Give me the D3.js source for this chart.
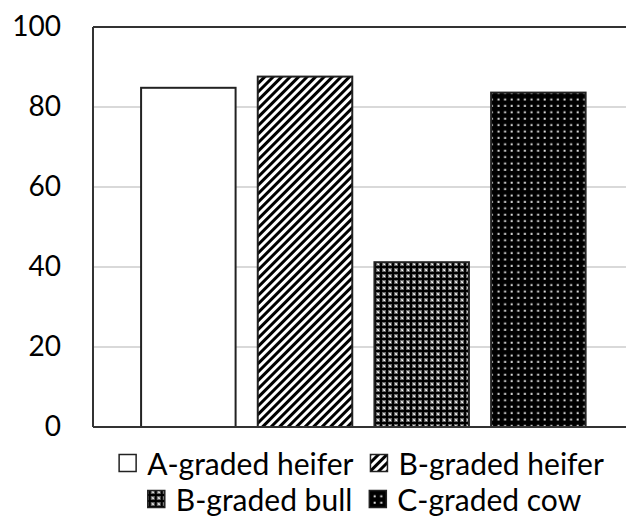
<!DOCTYPE html>
<html>
<head>
<meta charset="utf-8">
<script src="https://cdn.jsdelivr.net/npm/d3@7"></script>
<style>
  body { margin: 0; background: #fff; }
  svg { display: block; font-family: Lato, "Open Sans", sans-serif; }
</style>
</head>
<body>
<script>
// categories and values
var categories = ['A-graded heifer', 'B-graded heifer', 'B-graded bull', 'C-graded cow'];
var values = [84.8, 87.6, 41.2, 83.6];
var patternIds = ['pNone', 'pStripe', 'pCheck', 'pDots'];
var yTicks = [0, 20, 40, 60, 80, 100];

var W = 626, H = 519;
var plotLeft = 93, plotTop = 27, plotBottom = 427, plotRight = 626;

var svg = d3.select('body').append('svg')
    .attr('width', W)
    .attr('height', H);

// fill patterns
var defs = svg.append('defs');

var stripe = defs.append('pattern')
    .attr('id', 'pStripe')
    .attr('patternUnits', 'userSpaceOnUse')
    .attr('width', 6).attr('height', 6)
    .attr('patternTransform', 'rotate(45)');
stripe.append('rect').attr('width', 6).attr('height', 6).attr('fill', '#fff');
stripe.append('rect').attr('width', 3).attr('height', 6).attr('fill', '#000');

var check = defs.append('pattern')
    .attr('id', 'pCheck')
    .attr('patternUnits', 'userSpaceOnUse')
    .attr('width', 6).attr('height', 6);
check.append('rect').attr('width', 6).attr('height', 6).attr('fill', '#666');
check.append('rect').attr('x', 2).attr('y', 0).attr('width', 2).attr('height', 6).attr('fill', '#000');
check.append('rect').attr('x', 0).attr('y', 2).attr('width', 6).attr('height', 2).attr('fill', '#000');
check.append('rect').attr('x', 0).attr('y', 0).attr('width', 1).attr('height', 1).attr('fill', '#fff');
check.append('rect').attr('x', 5).attr('y', 5).attr('width', 1).attr('height', 1).attr('fill', '#ddd');
check.append('rect').attr('x', 5).attr('y', 0).attr('width', 1).attr('height', 1).attr('fill', '#bbb');
check.append('rect').attr('x', 0).attr('y', 5).attr('width', 1).attr('height', 1).attr('fill', '#bbb');

var dots = defs.append('pattern')
    .attr('id', 'pDots')
    .attr('patternUnits', 'userSpaceOnUse')
    .attr('width', 6.6).attr('height', 6.4);
dots.append('rect').attr('width', 6.6).attr('height', 6.4).attr('fill', '#000');
dots.append('rect').attr('x', 2.5).attr('y', 2.5).attr('width', 2).attr('height', 2).attr('fill', '#ddd');

var yScale = d3.scaleLinear()
    .domain([0, 100])
    .range([plotBottom, plotTop]);

var xScale = d3.scaleBand()
    .domain(categories)
    .range([130, 596.7])
    .paddingInner(0.19)
    .paddingOuter(0.095);

// gridlines
svg.append('g')
  .selectAll('line')
  .data(yTicks.filter(function (d) { return d > 0 && d < 100; }))
  .enter()
  .append('line')
  .attr('x1', plotLeft).attr('x2', plotRight)
  .attr('y1', function (d) { return yScale(d); })
  .attr('y2', function (d) { return yScale(d); })
  .attr('stroke', '#d9d9d9')
  .attr('stroke-width', 2);

// y axis labels
var yAxis = d3.axisLeft(yScale).tickValues(yTicks).tickSize(0).tickPadding(32);
var yg = svg.append('g')
  .attr('transform', 'translate(' + plotLeft + ',0)')
  .call(yAxis);
yg.select('.domain').remove();
yg.selectAll('text')
  .attr('font-size', '28px')
  .attr('font-family', 'Lato, sans-serif')
  .attr('fill', '#000');

// bars
svg.append('g')
  .selectAll('rect')
  .data(values)
  .enter()
  .append('rect')
  .attr('x', function (d, i) { return xScale(categories[i]); })
  .attr('y', function (d) { return yScale(d); })
  .attr('width', xScale.bandwidth())
  .attr('height', function (d) { return plotBottom - yScale(d); })
  .attr('fill', function (d, i) { return i === 0 ? '#fff' : 'url(#' + patternIds[i] + ')'; })
  .attr('stroke', '#222')
  .attr('stroke-width', 2);

// frame: top and left, bottom axis line
svg.append('line')
  .attr('x1', plotLeft).attr('x2', plotRight)
  .attr('y1', plotTop).attr('y2', plotTop)
  .attr('stroke', '#333').attr('stroke-width', 2);
svg.append('line')
  .attr('x1', plotLeft).attr('x2', plotLeft)
  .attr('y1', plotTop).attr('y2', plotBottom)
  .attr('stroke', '#333').attr('stroke-width', 2);
svg.append('line')
  .attr('x1', plotLeft).attr('x2', plotRight)
  .attr('y1', plotBottom).attr('y2', plotBottom)
  .attr('stroke', '#333').attr('stroke-width', 2);

// legend, two rows
var legendRows = [[0, 1], [2, 3]];
var rowY = [464, 500];
var sw = 19, gapSwatch = 10, gapItem = 16;

legendRows.forEach(function (row, r) {
  var g = svg.append('g');
  var x = 0;
  row.forEach(function (idx, k) {
    g.append('rect')
      .attr('x', x + 1)
      .attr('y', rowY[r] - sw / 2)
      .attr('width', sw - 2)
      .attr('height', sw - 2)
      .attr('fill', idx === 0 ? '#fff' : 'url(#' + patternIds[idx] + ')')
      .attr('stroke', '#222')
      .attr('stroke-width', 1.5);
    var t = g.append('text')
      .attr('x', x + sw + gapSwatch)
      .attr('y', rowY[r])
      .attr('dy', '0.35em')
      .attr('font-size', '30px')
      .attr('fill', '#000')
      .text(categories[idx]);
    x += sw + gapSwatch + t.node().getComputedTextLength();
    if (k < row.length - 1) x += gapItem;
  });
  var cx = r === 0 ? 361 : 364;
  g.attr('transform', 'translate(' + (cx - x / 2) + ',0)');
});
</script>
</body>
</html>
